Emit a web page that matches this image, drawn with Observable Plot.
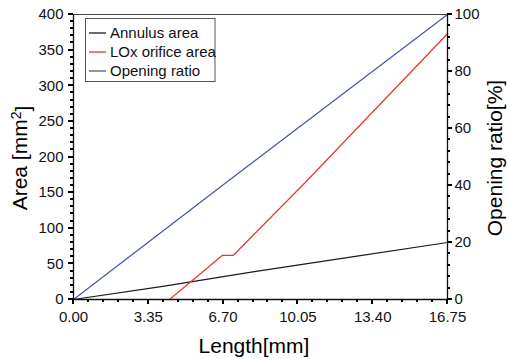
<!DOCTYPE html>
<html>
<head>
<meta charset="utf-8">
<script src="https://cdn.jsdelivr.net/npm/d3@7"></script>
<script src="https://cdn.jsdelivr.net/npm/@observablehq/plot@0.6"></script>
<style>
  html, body { margin: 0; padding: 0; background: #fff; }
  svg { display: block; }
</style>
</head>
<body>
<div id="chart"></div>
<script>
// ---- data ----
const xTickValues = [0, 3.35, 6.70, 10.05, 13.40, 16.75];
const xTickLabels = ["0.00", "3.35", "6.70", "10.05", "13.40", "16.75"];
const leftTicks = [0, 50, 100, 150, 200, 250, 300, 350, 400];
const rightTicks = [0, 20, 40, 60, 80, 100];

const seriesNames = ["Annulus area", "LOx orifice area", "Opening ratio"];
const seriesColors = ["#1a1a1a", "#f03030", "#4556a8"];

const annulusX = [0, 4.0, 8.1, 12.4, 16.75];
const annulusY = [0, 18.5, 39.2, 59.5, 80];

const loxX = [4.30, 6.66, 7.15, 10.39, 16.75];
const loxY = [0, 61.8, 61.8, 164.6, 373];

const openX = [0, 7.0, 16.75];
const openPct = [0, 42, 100];

// ---- build tables ----
const annulus = annulusX.map((x, i) => ({x, y: annulusY[i]}));
const lox = loxX.map((x, i) => ({x, y: loxY[i]}));
const opening = openX.map((x, i) => ({x, pct: openPct[i]}));

const xMinor = d3.range(0, 26).filter(i => i % 5 !== 0).map(i => i * 0.67);
const leftMinor = d3.range(0, 401, 10).filter(v => v % 50 !== 0);
const rightMinor = d3.range(0, 101, 4).filter(v => v % 20 !== 0);
const pctToArea = 4; // 100 % corresponds to 400 on the left axis

const font = "'Liberation Sans', Arial, Helvetica, sans-serif";
const axisStyle = {stroke: "#111", label: null, tickSize: 0, fontSize: 15};

const plot = Plot.plot({
  width: 508,
  height: 359,
  marginLeft: 73,
  marginRight: 61,
  marginTop: 14,
  marginBottom: 60,
  style: {fontFamily: font, fontSize: "15px", color: "#111", background: "#fff"},
  x: {domain: [0, 16.75], axis: null},
  y: {domain: [0, 400], axis: null},
  marks: [
    Plot.frame({stroke: "#444", strokeWidth: 1}),
    Plot.line(annulus, {x: "x", y: "y", stroke: seriesColors[0], strokeWidth: 1.2}),
    Plot.line(lox, {x: "x", y: "y", stroke: seriesColors[1], strokeWidth: 1.2}),
    Plot.line(opening, {x: "x", y: d => d.pct * pctToArea, stroke: seriesColors[2], strokeWidth: 1.2}),
    Plot.axisX({ticks: xTickValues, tickPadding: 12, tickFormat: (d) => xTickLabels[xTickValues.indexOf(d)], ...axisStyle}),
    Plot.axisY({ticks: leftTicks, tickPadding: 10, ...axisStyle}),
    Plot.axisY({anchor: "right", ticks: rightTicks.map(v => v * pctToArea), tickFormat: d => d / pctToArea, tickPadding: 7, ...axisStyle}),
    Plot.ruleY([0], {stroke: "#111", strokeWidth: 1.3}),
    Plot.ruleX([0], {stroke: "#111", strokeWidth: 1.3}),
    Plot.ruleX([16.75], {stroke: "#111", strokeWidth: 1.3})
  ]
});

document.getElementById("chart").appendChild(plot);

const svg = d3.select(plot);
const sx = plot.scale("x");
const sy = plot.scale("y");
const y0 = sy.apply(0);
const xL = sx.apply(0);
const xR = sx.apply(16.75);

// tick marks drawn from the plot's own scales
const tg = svg.append("g").attr("stroke", "#000").attr("stroke-width", 1.5).attr("shape-rendering", "crispEdges");
function xTick(v, len) {
  const px = Math.round(sx.apply(v));
  tg.append("line").attr("x1", px).attr("x2", px).attr("y1", y0).attr("y2", y0 + len);
}
function yTick(v, x, dir, len) {
  const py = Math.round(sy.apply(v));
  tg.append("line").attr("x1", x).attr("x2", x + dir * len).attr("y1", py).attr("y2", py);
}
xTickValues.forEach(v => xTick(v, 5));
xMinor.forEach(v => xTick(v, 3));
leftTicks.forEach(v => yTick(v, xL, -1, 5));
leftMinor.forEach(v => yTick(v, xL, -1, 3));
rightTicks.forEach(v => yTick(v * pctToArea, xR, 1, 5));
rightMinor.forEach(v => yTick(v * pctToArea, xR, 1, 3));

// axis titles
svg.append("text")
  .attr("x", 254).attr("y", 353)
  .attr("text-anchor", "middle")
  .style("font-family", font).style("font-size", "21px").attr("fill", "#000")
  .text("Length[mm]");

const yt = svg.append("text")
  .attr("transform", "translate(27,158) rotate(-90)")
  .attr("text-anchor", "middle")
  .style("font-family", font).style("font-size", "21px").attr("fill", "#000");
yt.append("tspan").text("Area [mm");
yt.append("tspan").attr("dy", "-0.45em").style("font-size", "14px").text("2");
yt.append("tspan").attr("dy", "0.45em").text("]");

svg.append("text")
  .attr("transform", "translate(502,158) rotate(-90)")
  .attr("text-anchor", "middle")
  .style("font-family", font).style("font-size", "21px").attr("fill", "#000")
  .text("Opening ratio[%]");

// legend
const lg = svg.append("g").attr("text-anchor", "start");
lg.append("rect").attr("x", 85.5).attr("y", 18.5).attr("width", 129.5).attr("height", 63)
  .attr("fill", "#fff").attr("stroke", "#555").attr("stroke-width", 1);
seriesNames.forEach((name, i) => {
  const yy = 33 + i * 19;
  lg.append("line").attr("x1", 89).attr("x2", 106).attr("y1", yy).attr("y2", yy)
    .attr("stroke", seriesColors[i]).attr("stroke-width", 1.3);
  lg.append("text").attr("x", 110).attr("y", yy).attr("dy", "0.35em")
    .attr("text-anchor", "start")
    .style("font-family", font).style("font-size", "15px").attr("fill", "#111")
    .text(name);
});
</script>
</body>
</html>
